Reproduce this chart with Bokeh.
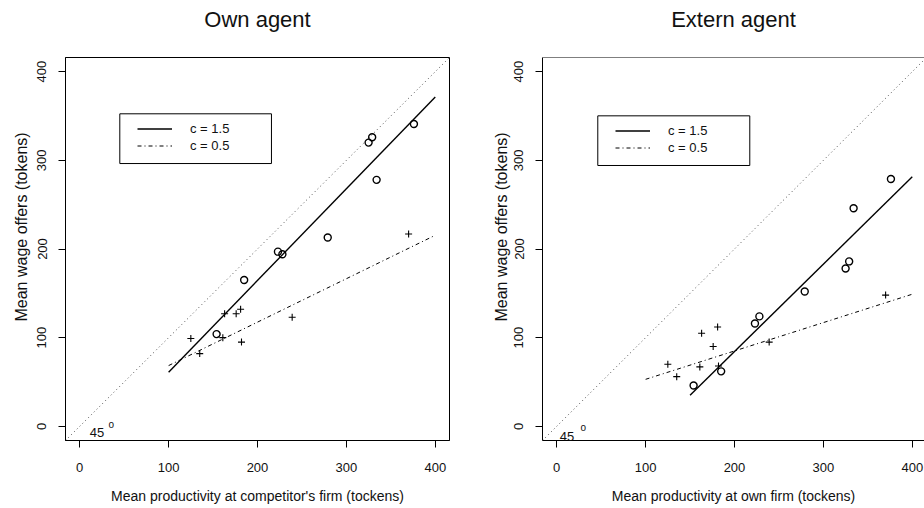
import math
from bokeh.plotting import figure
from bokeh.layouts import row
from bokeh.models import (Range1d, Slope, Label, Legend, LegendItem, Span,
                          BoxAnnotation, FixedTicker, Title)
from bokeh.embed import file_html
from bokeh.resources import INLINE

# ---------------- data ----------------
tick_values = [0, 100, 200, 300, 400]

# productivity values (x) for the two treatments
prod_c15 = [154, 185, 223, 228, 279, 325, 329, 334, 376]
prod_c05 = [125, 135, 161, 163, 176, 181, 182, 239, 370]

# mean wage offers, own agent
own_c15 = [104, 165, 197, 194, 213, 320, 326, 278, 341]
own_c05 = [99, 82, 100, 127, 127, 132, 95, 123, 217]

# mean wage offers, extern agent
ext_c15 = [46, 62, 116, 124, 152, 178, 186, 246, 279]
ext_c05 = [70, 56, 67, 105, 90, 112, 68, 95, 148]

# fitted lines (end points)
own_fit15_x = [100, 400]
own_fit15_y = [61, 371.5]
own_fit05_x = [100, 400]
own_fit05_y = [68.5, 215.5]
ext_fit15_x = [150, 400]
ext_fit15_y = [35, 281.5]
ext_fit05_x = [100, 400]
ext_fit05_y = [53, 149]

legend_labels = ["c = 1.5", "c = 0.5"]

FONT = "Liberation Sans"
TXT = "#111111"


def make_panel(title, xlabel, ylabel, y15, y05, fx15, fy15, fx05, fy05,
               width, x_end, left_border, right_border, outline, leg_loc,
               leg_box, deg_pos, ylab_standoff):
    p = figure(width=width, height=508,
               x_range=Range1d(-16, x_end), y_range=Range1d(-16, 416),
               output_backend="svg", toolbar_location=None,
               min_border_left=left_border, min_border_right=right_border,
               min_border_top=57, min_border_bottom=68)
    p.background_fill_color = "white"
    p.border_fill_color = "white"
    p.grid.visible = False
    if outline:
        p.outline_line_color = "black"
        p.outline_line_width = 1
        p.outline_line_alpha = 1
    else:
        p.outline_line_color = None
        p.add_layout(Span(location=416, dimension="width",
                          line_color="black", line_width=1))

    # title (outermost) + an empty spacer between it and the frame
    p.title.text = title
    p.title.align = "center"
    p.title.vertical_align = "top"
    p.title.text_font = FONT
    p.title.text_font_style = "normal"
    p.title.text_font_size = "22px"
    p.title.text_color = TXT
    p.title.standoff = 0
    p.add_layout(Title(text=" ", text_font_size="1px", standoff=21), "above")

    for ax in (p.xaxis[0], p.yaxis[0]):
        ax.ticker = FixedTicker(ticks=tick_values)
        ax.minor_tick_line_color = None
        ax.major_tick_in = 0
        ax.major_tick_out = 7
        ax.major_tick_line_color = "black"
        ax.major_tick_line_width = 1
        ax.axis_line_color = "black"
        ax.axis_line_width = 1
        ax.major_label_text_font = FONT
        ax.major_label_text_font_size = "13px"
        ax.major_label_text_color = TXT
    p.xaxis.major_label_standoff = 15
    p.yaxis.major_label_standoff = 12
    p.yaxis.major_label_orientation = "vertical"
    p.xaxis.axis_label = xlabel
    p.xaxis.axis_label_text_font = FONT
    p.xaxis.axis_label_text_font_size = "14px"
    p.xaxis.axis_label_text_font_style = "normal"
    p.xaxis.axis_label_text_color = TXT
    p.xaxis.axis_label_standoff = 13

    # y axis label (placed as in the reference, above the frame centre)
    ytitle = Title(text=ylabel, align="left", vertical_align="middle",
                   offset=119, standoff=ylab_standoff, text_font=FONT,
                   text_font_size="16px", text_font_style="normal",
                   text_color=TXT)
    p.add_layout(ytitle, "left")

    # 45 degree reference line
    p.add_layout(Slope(gradient=1, y_intercept=0, line_color="black",
                       line_width=1, line_dash="1 3", line_alpha=0.7))

    # points
    p.scatter(prod_c15, y15, marker="circle", size=7, fill_color=None,
              line_color="black", line_width=1.4)
    p.scatter(prod_c05, y05, marker="cross", size=7,
              line_color="black", line_width=1.1)

    # fitted lines
    r15 = p.line(fx15, fy15, line_color="black", line_width=1.4)
    r05 = p.line(fx05, fy05, line_color="black", line_width=1,
                 line_dash="4 3 1 3")

    # legend
    leg = Legend(items=[LegendItem(label=legend_labels[0], renderers=[r15]),
                        LegendItem(label=legend_labels[1], renderers=[r05])],
                 location=leg_loc, orientation="vertical",
                 border_line_color=None, background_fill_alpha=0,
                 padding=0, margin=0, spacing=0,
                 glyph_width=35, glyph_height=17, label_height=17,
                 label_standoff=18, label_text_font=FONT,
                 label_text_font_size="13px", label_text_color=TXT)
    p.add_layout(leg)
    l, r, t, b = leg_box
    p.add_layout(BoxAnnotation(left=l, right=r, top=t, bottom=b,
                               fill_alpha=0, line_color="black",
                               line_width=1, line_alpha=1))

    # "45°" annotation
    (tx, ty), (ox, oy) = deg_pos
    p.add_layout(Label(x=tx, y=ty, text="45", text_align="left",
                       text_baseline="middle", text_font=FONT,
                       text_font_size="13px", text_color=TXT))
    p.add_layout(Label(x=ox, y=oy, text="o", text_align="center",
                       text_baseline="middle", text_font=FONT,
                       text_font_size="10px", text_color=TXT))
    return p


p1 = make_panel("Own agent", "Mean productivity at competitor's firm (tockens)",
                "Mean wage offers (tokens)", own_c15, own_c05,
                own_fit15_x, own_fit15_y, own_fit05_x, own_fit05_y,
                width=485, x_end=416, left_border=65, right_border=36,
                outline=True,
                leg_loc=(72, 286), leg_box=(45.1, 215.7, 352.5, 296.4),
                deg_pos=((11.3, -7.5), (35.5, 2.0)), ylab_standoff=8)

p2 = make_panel("Extern agent", "Mean productivity at own firm (tockens)",
                "Mean wage offers (tokens)", ext_c15, ext_c05,
                ext_fit15_x, ext_fit15_y, ext_fit05_x, ext_fit05_y,
                width=439, x_end=413.75, left_border=57, right_border=0,
                outline=False,
                leg_loc=(73, 284), leg_box=(46.2, 217.2, 350.2, 294.2),
                deg_pos=((3.5, -11), (29.8, -1.0)), ylab_standoff=2)

layout = row(p1, p2)
open("out.html", "w").write(file_html(layout, INLINE))
